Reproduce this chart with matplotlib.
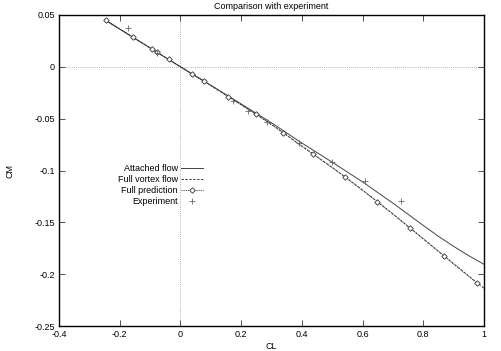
import matplotlib
matplotlib.use("Agg")
import matplotlib.pyplot as plt

plt.rcParams['font.family'] = ['Liberation Sans', 'DejaVu Sans']

# Attached flow (solid line)
att_cl = [-0.25, -0.1, 0.0, 0.1, 0.2, 0.3, 0.4, 0.5, 0.6, 0.7, 0.8, 0.85, 0.9, 0.95, 1.0]
att_cm = [0.0455, 0.0182, 0.0, -0.0178, -0.0358, -0.0540, -0.0735, -0.0920, -0.1110,
          -0.1315, -0.1530, -0.1635, -0.1732, -0.1822, -0.1905]

# Full vortex flow (dashed line)
vor_cl = [-0.25, -0.1, 0.0, 0.1, 0.2, 0.3, 0.4, 0.5, 0.6, 0.7, 0.8, 0.9, 1.0]
vor_cm = [0.0455, 0.0182, 0.0, -0.0180, -0.0365, -0.0555, -0.0765, -0.0970, -0.1190,
          -0.1420, -0.1660, -0.1900, -0.2137]

# Full prediction (dotted line with diamonds)
pred_cl = [-0.246, -0.157, -0.0945, -0.077, -0.0375, 0.038, 0.078, 0.158, 0.249,
           0.339, 0.438, 0.542, 0.649, 0.757, 0.867, 0.978]
pred_cm = [0.0451, 0.0287, 0.0175, 0.0140, 0.0072, -0.0069, -0.0137, -0.0288, -0.0456,
           -0.0636, -0.0844, -0.1060, -0.1300, -0.1555, -0.1820, -0.2090]

# Experiment (+ markers)
exp_cl = [-0.174, -0.078, 0.174, 0.224, 0.285, 0.392, 0.498, 0.608, 0.728]
exp_cm = [0.0375, 0.0136, -0.0330, -0.0426, -0.0530, -0.0735, -0.0915, -0.1100, -0.1295]

xticks = [-0.4, -0.2, 0, 0.2, 0.4, 0.6, 0.8, 1]
xtick_labels = ['-0.4', '-0.2', '0', '0.2', '0.4', '0.6', '0.8', '1']
yticks = [0.05, 0, -0.05, -0.1, -0.15, -0.2, -0.25]
ytick_labels = ['0.05', '0', '-0.05', '-0.1', '-0.15', '-0.2', '-0.25']

fig = plt.figure(figsize=(5.01, 3.51), dpi=100)
ax = fig.add_axes([59/501, 1-326/351, 425/501, 311/351])

fs = 6.5
ax.axhline(0, color='#999999', lw=0.6, ls=(0, (1, 1.5)), zorder=1)
ax.axvline(0, color='#999999', lw=0.6, ls=(0, (1, 1.5)), zorder=1)

ax.plot(att_cl, att_cm, color='#444444', lw=0.7, ls='-', label='Attached flow')
ax.plot(vor_cl, vor_cm, color='#444444', lw=0.7, ls=(0, (2.5, 1.5)), label='Full vortex flow')
ax.plot(pred_cl, pred_cm, color='#333333', lw=0.7, ls=(0, (1, 1.2)), marker='D',
        markersize=2.8, markerfacecolor='white', markeredgecolor='#333333',
        markeredgewidth=0.6, label='Full prediction')
ax.plot(exp_cl, exp_cm, ls='none', marker='+', markersize=5, color='#666666',
        markeredgewidth=0.6, label='Experiment')

ax.set_xlim(-0.4, 1.0)
ax.set_ylim(-0.25, 0.05)
ax.set_xticks(xticks)
ax.set_xticklabels(xtick_labels)
ax.set_yticks(yticks)
ax.set_yticklabels(ytick_labels)
ax.tick_params(direction='in', length=4, width=0.6, top=True, right=True,
               labelsize=fs, pad=3, color='#333333')
for s in ax.spines.values():
    s.set_linewidth(1.0)
    s.set_color('black')

ax.set_title('Comparison with experiment', fontsize=fs, pad=4)
ax.set_xlabel('CL', fontsize=fs, labelpad=2)
ax.set_ylabel('CM', fontsize=fs, labelpad=14)

leg = ax.legend(loc='upper right', bbox_to_anchor=(0.339, 0.52), frameon=False,
                markerfirst=False, fontsize=fs, handlelength=2.4, handletextpad=0.4,
                labelspacing=0.22, borderaxespad=0, borderpad=0)

fig.savefig('out.png', dpi=100)
